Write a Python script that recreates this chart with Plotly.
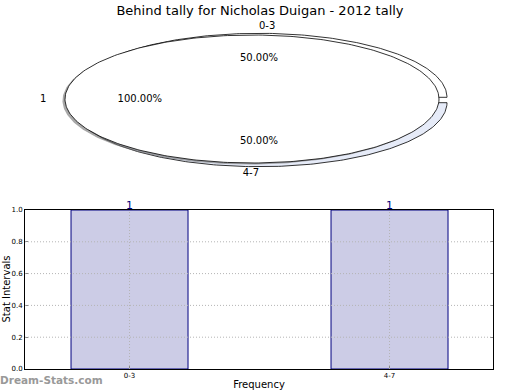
import numpy as np
import plotly.graph_objects as go

# ---------------- data ----------------
title_text = "Behind tally for Nicholas Duigan - 2012 tally"
outer_labels = ["0-3", "4-7"]
outer_values = [1, 1]
inner_labels = ["1"]
inner_values = [1]
bar_categories = ["0-3", "4-7"]
bar_values = [1, 1]
y_ticks = [0.0, 0.2, 0.4, 0.6, 0.8, 1.0]

# ---------------- geometry / style ----------------
W, H = 520, 390
ML, MR, MT, MB = 25, 27, 0, 21
PLOT_H = H - MT - MB  # 369
PIE_BOTTOM_PX = 180

OUT_C = (259.0, 100.0)
OUT_A, OUT_B = 188.0, 64.0
EXPLODE = 2.7
IN_C = (252.0, 99.0)
IN_A, IN_B = 187.0, 64.0
SHADOW_OFF = (-2.5, 1.5)

outer_colors = ["#ffffff", "#e6ebf8"]
bar_fill = "rgb(204,204,230)"
bar_edge = "#000080"
grid_col = "#b4b4b4"
font_fam = "DejaVu Sans"

fig = go.Figure()


def ell_pts(c, a, b, t1, t2, n=200, wedge=True):
    t = np.linspace(t1, t2, n)
    xs = c[0] + a * np.cos(t)
    ys = c[1] - b * np.sin(t)
    if wedge:
        xs = np.concatenate([[c[0]], xs, [c[0]]])
        ys = np.concatenate([[c[1]], ys, [c[1]]])
    return xs, ys


def align(cosv):
    if cosv > 0:
        return "middle right"
    if cosv < 0:
        return "middle left"
    return "middle center"


# outer wedges
tot = float(sum(outer_values))
start = 0.0
label_x, label_y, label_t, label_pos = [], [], [], []
pct_x, pct_y, pct_t = [], [], []
for lab, v, col in zip(outer_labels, outer_values, outer_colors):
    frac = v / tot
    t1 = start
    t2 = start + 2 * np.pi * frac
    mid = 0.5 * (t1 + t2)
    c = (OUT_C[0] + EXPLODE * np.cos(mid), OUT_C[1] - EXPLODE * np.sin(mid))
    xs, ys = ell_pts(c, OUT_A, OUT_B, t1, t2)
    fig.add_trace(go.Scatter(x=xs, y=ys, mode="lines", fill="toself",
                             fillcolor=col, line=dict(color="black", width=0.8),
                             xaxis="x2", yaxis="y2", hoverinfo="skip",
                             showlegend=False))
    label_x.append(c[0] + 1.1 * OUT_A * np.cos(mid))
    label_y.append(c[1] - 1.1 * OUT_B * np.sin(mid))
    label_t.append(lab)
    label_pos.append(align(np.cos(mid)))
    pct_x.append(c[0] + 0.6 * OUT_A * np.cos(mid))
    pct_y.append(c[1] - 0.6 * OUT_B * np.sin(mid))
    pct_t.append(f"{100 * frac:.2f}%")
    start = t2

# shadow for inner pie
xs, ys = ell_pts((IN_C[0] + SHADOW_OFF[0], IN_C[1] + SHADOW_OFF[1]),
                 IN_A, IN_B, 0, 2 * np.pi, 300, wedge=False)
fig.add_trace(go.Scatter(x=xs, y=ys, mode="lines", fill="toself",
                         fillcolor="rgba(110,110,110,0.6)",
                         line=dict(color="rgba(0,0,0,0)", width=0),
                         xaxis="x2", yaxis="y2", hoverinfo="skip",
                         showlegend=False))

# inner pie
tot_in = float(sum(inner_values))
start = 0.0
for lab, v in zip(inner_labels, inner_values):
    frac = v / tot_in
    t1 = start
    t2 = start + 2 * np.pi * frac
    mid = 0.5 * (t1 + t2)
    xs, ys = ell_pts(IN_C, IN_A, IN_B, t1, t2, 300, wedge=(frac < 1))
    fig.add_trace(go.Scatter(x=xs, y=ys, mode="lines", fill="toself",
                             fillcolor="#ffffff", line=dict(color="black", width=0.8),
                             xaxis="x2", yaxis="y2", hoverinfo="skip",
                             showlegend=False))
    label_x.append(IN_C[0] + 1.1 * IN_A * np.cos(mid))
    label_y.append(IN_C[1] - 1.1 * IN_B * np.sin(mid))
    label_t.append(lab)
    label_pos.append(align(np.cos(mid)))
    pct_x.append(IN_C[0] + 0.6 * IN_A * np.cos(mid))
    pct_y.append(IN_C[1] - 0.6 * IN_B * np.sin(mid))
    pct_t.append(f"{100 * frac:.2f}%")
    start = t2

fig.add_trace(go.Scatter(x=label_x + pct_x, y=label_y + pct_y, mode="text",
                         text=label_t + pct_t,
                         textposition=label_pos + ["middle center"] * len(pct_t),
                         textfont=dict(family=font_fam, size=10, color="black"),
                         xaxis="x2", yaxis="y2", hoverinfo="skip",
                         showlegend=False, cliponaxis=False))

# ---------------- bars ----------------
xpos = list(range(len(bar_categories)))
fig.add_trace(go.Bar(x=xpos, y=bar_values, width=0.45,
                     marker=dict(color=bar_fill, line=dict(color=bar_edge, width=1)),
                     showlegend=False, xaxis="x", yaxis="y", hoverinfo="skip"))

annotations = []
for xp, v in zip(xpos, bar_values):
    annotations.append(dict(x=xp, y=v, xref="x", yref="y", text=str(v),
                            showarrow=False, xanchor="center", yanchor="middle",
                            yshift=5,
                            font=dict(family=font_fam, size=11, color=bar_edge)))

# dotted grid above bars
shapes = []
for xp in xpos:
    shapes.append(dict(type="line", xref="x", yref="y", x0=xp, x1=xp, y0=0, y1=1,
                       line=dict(color=grid_col, width=1, dash="1px,2px"), layer="above"))
for yt in y_ticks[1:-1]:
    shapes.append(dict(type="line", xref="x domain", yref="y", x0=0, x1=1, y0=yt, y1=yt,
                       line=dict(color=grid_col, width=1, dash="1px,2px"), layer="above"))

PW = W - ML - MR
annotations.append(dict(text="Stat Intervals", xref="paper", yref="paper",
                        x=6.0 / PW - ML / PW, y=(H - MB - 289.5) / PLOT_H,
                        xanchor="center", yanchor="middle", textangle=-90,
                        showarrow=False,
                        font=dict(family=font_fam, size=10, color="black")))
annotations.append(dict(text="<b>Dream-Stats.com</b>", xref="paper", yref="paper",
                        x=-ML / PW, y=-(380 - (H - MB)) / PLOT_H, xshift=-2,
                        xanchor="left", yanchor="middle", showarrow=False,
                        font=dict(family=font_fam, size=10.5, color="#999999")))

bar_dom_top = (H - MB - 210) / PLOT_H
fig.update_layout(
    width=W, height=H,
    margin=dict(l=ML, r=MR, t=MT, b=MB, autoexpand=False),
    paper_bgcolor="white", plot_bgcolor="white",
    showlegend=False,
    font=dict(family=font_fam, color="black"),
    title=dict(text=title_text, x=0.5, xref="container", xanchor="center",
               y=1 - 10 / H, yref="container", yanchor="middle",
               font=dict(family=font_fam, size=13, color="black")),
    xaxis=dict(domain=[0, 1], anchor="y", range=[-0.402, 1.398],
               tickmode="array", tickvals=xpos, ticktext=bar_categories,
               tickfont=dict(size=7, family=font_fam), ticks="inside", ticklen=3,
               tickcolor="#888", showgrid=False, zeroline=False,
               showline=True, linecolor="black", linewidth=1, mirror=True,
               title=dict(text="Frequency", font=dict(size=10, family=font_fam),
                          standoff=13)),
    yaxis=dict(domain=[0, bar_dom_top], anchor="x", range=[0, 1],
               tickmode="array", tickvals=y_ticks,
               ticktext=[f"{v:.1f}" for v in y_ticks],
               tickfont=dict(size=7, family=font_fam), ticks="inside", ticklen=3,
               tickcolor="#888", showgrid=False, zeroline=False,
               showline=True, linecolor="black", linewidth=1, mirror="ticks"),
    xaxis2=dict(domain=[0, 1], anchor="y2", range=[ML, W - MR], visible=False,
                fixedrange=True),
    yaxis2=dict(domain=[(PLOT_H - PIE_BOTTOM_PX) / PLOT_H, 1], anchor="x2",
                range=[PIE_BOTTOM_PX, 0], visible=False, fixedrange=True),
    shapes=shapes,
    annotations=annotations,
)

fig.write_html("out.html",
               config={"displayModeBar": False},
               post_script="document.body.style.margin='0';"
                           "document.body.style.overflow='hidden';")
